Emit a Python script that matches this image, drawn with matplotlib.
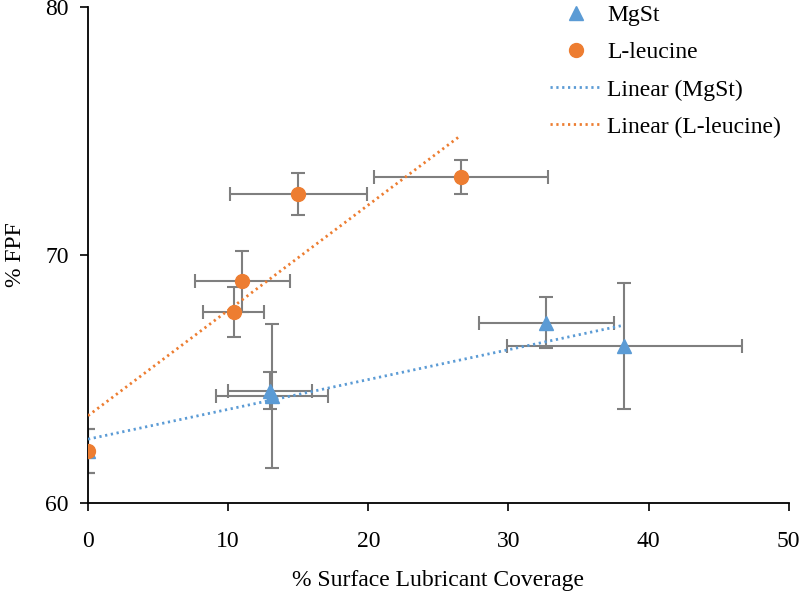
import numpy as np
import matplotlib
matplotlib.use("Agg")
import matplotlib.pyplot as plt
from matplotlib.lines import Line2D

plt.rcParams['font.family'] = ['Liberation Serif', 'DejaVu Serif']

# MgSt data
mg_x = [0.0, 13.0, 13.1, 32.7, 38.27]
mg_y = [62.1, 64.53, 64.31, 67.27, 66.34]
mg_xerr = [0.0, 3.0, 4.0, 4.8, 8.4]
mg_yerr = [0.9, 0.75, 2.9, 1.02, 2.53]

# L-leucine data
leu_x = [0.0, 10.39, 11.0, 15.0, 26.6]
leu_y = [62.1, 67.71, 68.94, 72.47, 73.16]
leu_xerr = [0.0, 2.2, 3.4, 4.9, 6.2]
leu_yerr = [0.9, 1.0, 1.23, 0.86, 0.68]

x_ticks = [0, 10, 20, 30, 40, 50]
y_ticks = [60, 70, 80]

blue = '#5B9BD5'
orange = '#ED7D31'
gray = '#7F7F7F'

fig = plt.figure(figsize=(8, 5.93), dpi=100)
ax = fig.add_axes([0.11, 0.1518, 0.876, 0.836])

ax.errorbar(mg_x, mg_y, xerr=mg_xerr, yerr=mg_yerr, fmt='none', ecolor=gray,
            elinewidth=1.5, capsize=5, capthick=1.5, zorder=2)
ax.errorbar(leu_x, leu_y, xerr=leu_xerr, yerr=leu_yerr, fmt='none', ecolor=gray,
            elinewidth=1.5, capsize=5, capthick=1.5, zorder=2)
ax.plot(mg_x, mg_y, linestyle='none', marker='^', color=blue, markersize=10, zorder=3)
ax.plot(leu_x, leu_y, linestyle='none', marker='o', color=orange, markersize=10, zorder=3)

# linear trendlines
for xs, ys, c in [(mg_x, mg_y, blue), (leu_x, leu_y, orange)]:
    p = np.polyfit(xs, ys, 1)
    xx = np.array([min(xs), max(xs)])
    ax.plot(xx, np.polyval(p, xx), color=c, linewidth=2, linestyle=(0, (0.8, 1.3)),
            dash_capstyle='butt', zorder=4)

ax.set_xlim(0, 50)
ax.set_ylim(60, 80)
ax.set_xticks(x_ticks)
ax.set_yticks(y_ticks)
ax.tick_params(axis='both', labelsize=17, direction='out', length=6, width=1.2)
ax.tick_params(axis='x', pad=14)
ax.tick_params(axis='y', pad=8)
for s in ['top', 'right']:
    ax.spines[s].set_visible(False)
for s in ['left', 'bottom']:
    ax.spines[s].set_linewidth(1.3)
ax.set_xlabel('% Surface Lubricant Coverage', fontsize=17, labelpad=13)
ax.set_ylabel('% FPF', fontsize=17, labelpad=14)

handles = [
    Line2D([], [], linestyle='none', marker='^', color=blue, markersize=10),
    Line2D([], [], linestyle='none', marker='o', color=orange, markersize=10),
    Line2D([], [], color=blue, linewidth=2, linestyle=(0, (0.8, 1.3))),
    Line2D([], [], color=orange, linewidth=2, linestyle=(0, (0.8, 1.3))),
]
labels = ['MgSt', 'L-leucine', 'Linear (MgSt)', 'Linear (L-leucine)']
ax.legend(handles, labels, loc='upper right', bbox_to_anchor=(1.002, 1.024), borderaxespad=0,
          frameon=False, fontsize=17, handlelength=2.2, handletextpad=0.2, labelspacing=0.66)

fig.savefig('out.png', dpi=100)
